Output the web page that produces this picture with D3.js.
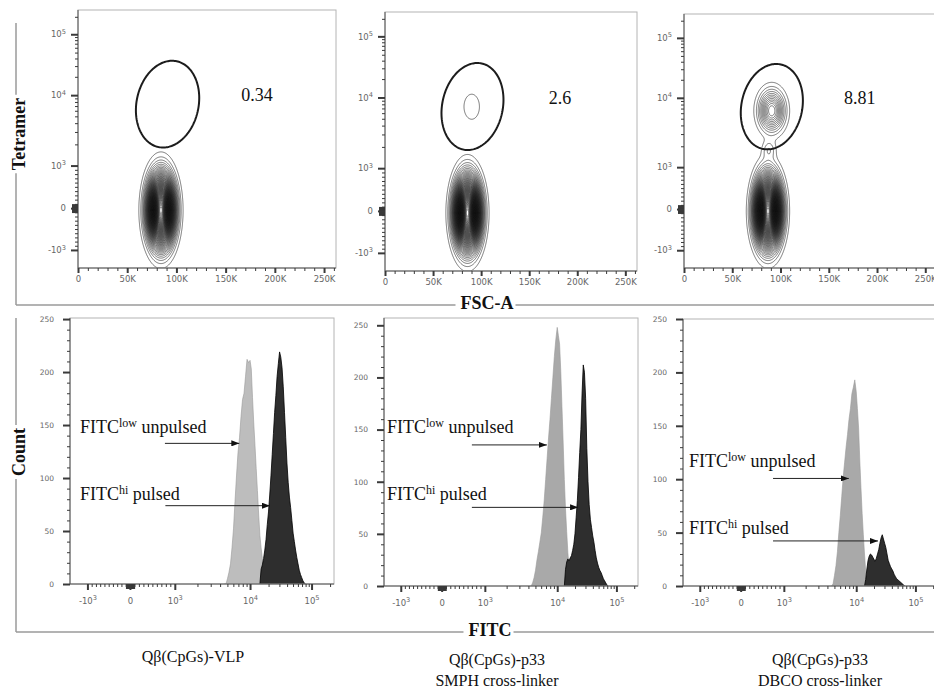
<!DOCTYPE html>
<html>
<head>
<meta charset="utf-8">
<title>Tetramer staining and in vivo killing</title>
<script src="https://cdn.jsdelivr.net/npm/d3@7/dist/d3.min.js"></script>
<style>
  html, body { margin: 0; padding: 0; background: #fff; }
  svg { display: block; }
</style>
</head>
<body>
<svg id="fig" width="934" height="688"></svg>
<script>
// ---------------- data ----------------
const sampleTitles = [
  ["Qβ(CpGs)-VLP"],
  ["Qβ(CpGs)-p33", "SMPH cross-linker"],
  ["Qβ(CpGs)-p33", "DBCO cross-linker"]
];
const gatePercents = ["0.34", "2.6", "8.81"];

const fscMax = 262144;
const fscMajorTicks = [0, 50000, 100000, 150000, 200000, 250000];
const biexMajorTicks = [-1000, 0, 1000, 10000, 100000];
const countMajorTicks = [0, 50, 100, 150, 200, 250];
const countMax = [251, 257, 250];

// Tetramer+ gate, identical on every sample (FSC-A, Tetramer)
const gateCentre = [91000, 7450];
const gateRadius = [31500, 0.7];      // FSC-A units, display decades
const gateTiltDeg = 12;
const percentAnchor = [182000, 10000];

// Event clusters behind the contour plots
// (Tetramer spread is given in linear-region decades of the display)
const clusterSample = [0, 1, 1, 2, 2, 2];
const clusterFSC    = [84300, 85800, 90200, 87000, 90900, 88000];
const clusterTet    = [-50, -50, 7400, -50, 6500, 1780];
const clusterSdFSC  = [7700, 7700, 7400, 7700, 8200, 4500];
const clusterSdTet  = [0.47, 0.47, 0.27, 0.47, 0.30, 0.14];
const clusterPeak   = [70, 70, 1.8, 70, 13, 2.5];              // in contour steps
const contourLevels = d3.range(1, 80);

// FITC histograms: counts per bin, bins spaced 0.02 log10 units from the start value
const histLogStep = 0.02;
const unpulsedStart = [3.66, 3.64, 3.66];
const unpulsedCounts = [
  [0,0,5,11,19,34,52,78,102,124,138,158,174,180,196,212,209,211,203,176,152,131,109,88,66,46,34,24,16,10,5,2,0],
  [0,3,8,15,25,33,42,51,66,82,102,122,142,160,180,200,220,236,248,240,232,206,172,138,102,74,52,32,18,8,2,0],
  [0,2,10,19,32,50,66,84,102,116,130,142,156,166,180,186,193,182,166,148,118,92,68,48,30,14,4,0]
];
const pulsedStart = [4.16, 4.12, 4.14];
const pulsedCounts = [
  [0,14,18,24,32,42,56,68,84,102,122,142,162,178,196,208,219,214,204,186,162,138,114,96,82,72,60,48,40,32,25,19,13,9,6,3,1,0],
  [0,16,23,26,24,27,29,34,40,50,66,82,104,128,150,185,212,205,180,132,100,78,64,56,48,42,34,27,22,18,15,13,10,7,5,3,1,0],
  [0,6,16,24,28,30,29,27,25,23,26,30,34,40,45,48,44,40,36,30,24,21,18,16,14,11,9,7,6,5,4,3,2,1,0]
];

// Histogram annotations: label baseline and arrow height in counts, arrow ends in FITC
const lowLabelCount = [142.7, 146.5, 111.5];
const lowArrowCount = [132.7, 135.3, 100.7];
const lowArrowFrom  = [780, 700, 750];
const lowArrowTo    = [7200, 7200, 7900];
const hiLabelCount  = [79, 82.4, 49.1];
const hiArrowCount  = [73.9, 75.4, 42.2];
const hiArrowFrom   = [790, 700, 750];
const hiArrowTo     = [21100, 22500, 23300];

// ---------------- layout ----------------
const topPanels = [
  { x: 78,  y: 10, w: 258, h: 258 },
  { x: 385, y: 12, w: 252, h: 259 },
  { x: 684, y: 14, w: 253, h: 254 }
];
const bottomPanels = [
  { x: 70,  y: 318, w: 264, h: 266 },
  { x: 384, y: 318, w: 254, h: 268 },
  { x: 683, y: 319, w: 254, h: 267 }
];
// biexponential display: decade units -> fraction of the plot
const tetBreaksU  = [-1.43, -1, 0, 1, 2, 3, 3.4186];
const tetBreaksF  = [0, 0.07, 0.232, 0.397, 0.67, 0.906, 1];
const fitcBreaksU = [-1.41, -1, 0, 1, 2, 3, 3.365];
const fitcBreaksF = [0, 0.066, 0.227, 0.397, 0.682, 0.915, 1];
const labelIndent = [10, 3, 6];
const titleCentres = [193, 497, 820];
const unpulsedFill = ["#bdbdbd", "#a9a9a9", "#a9a9a9"];

const SERIF = "'Liberation Serif','Times New Roman',Times,serif";
const SANS = "'DejaVu Sans',Verdana,sans-serif";
const TICK_INK = "#3a3a3a", LABEL_INK = "#666", FRAME_INK = "#b4b4b4", BRACKET_INK = "#9a9a9a";

// ---------------- helpers ----------------
function toDecades(v) {
  const a = Math.abs(v);
  return a <= 1000 ? v / 1000 : Math.sign(v) * (1 + Math.log10(a / 1000));
}
function fromDecades(u) {
  const a = Math.abs(u);
  return a <= 1 ? u * 1000 : Math.sign(u) * 1000 * Math.pow(10, a - 1);
}
// minor ticks of a biexponential axis; the ±10..±90 ones crowd around zero
function biexMinorTicks(uLo, uHi) {
  const vals = [];
  d3.range(1, 10).forEach(m => vals.push(m * 100, -m * 100));
  [1000, 10000, 100000].forEach(k => d3.range(2, 10).forEach(m => vals.push(m * k)));
  return vals.map(toDecades).filter(u => u > uLo && u < uHi);
}
function biexZeroTicks() {
  const vals = [];
  d3.range(1, 10).forEach(m => vals.push(m * 10, -m * 10));
  return vals.map(toDecades);
}
function powLabel(text, v) {
  text.text(null);
  if (v === 0) { text.text("0"); return; }
  const e = Math.round(Math.log10(Math.abs(v)));
  text.append("tspan").text((v < 0 ? "-" : "") + "10");
  text.append("tspan").attr("dy", "-0.55em").attr("font-size", "0.78em").text(e);
}
function dressAxis(g, tickWidth, fontSize) {
  g.attr("font-family", SANS).attr("font-size", fontSize);
  g.select(".domain").remove();
  g.selectAll(".tick line").attr("stroke", TICK_INK).attr("stroke-width", tickWidth);
  g.selectAll(".tick text").attr("fill", LABEL_INK);
  return g;
}
function frame(p) {
  svg.append("rect").attr("x", p.x).attr("y", p.y).attr("width", p.w).attr("height", p.h)
    .attr("fill", "none").attr("stroke", FRAME_INK).attr("stroke-width", 1);
  svg.append("line").attr("x1", p.x).attr("x2", p.x).attr("y1", p.y).attr("y2", p.y + p.h)
    .attr("stroke", "#555").attr("stroke-width", 1);
  svg.append("line").attr("x1", p.x).attr("x2", p.x + p.w).attr("y1", p.y + p.h).attr("y2", p.y + p.h)
    .attr("stroke", "#555").attr("stroke-width", 1);
}

// ---------------- drawing ----------------
const svg = d3.select("#fig");
svg.append("rect").attr("width", 934).attr("height", 688).attr("fill", "#fff");
const defs = svg.append("defs");
defs.append("marker").attr("id", "arrowHead")
  .attr("viewBox", "0 0 8 6").attr("refX", 8).attr("refY", 3)
  .attr("markerWidth", 8).attr("markerHeight", 6)
  .attr("markerUnits", "userSpaceOnUse").attr("orient", "auto")
  .append("path").attr("d", "M0,0L8,3L0,6Z").attr("fill", "#111");

// Tetramer vs FSC-A contour plots
topPanels.forEach((p, i) => {
  const x = d3.scaleLinear().domain([0, fscMax]).range([p.x, p.x + p.w]);
  const y = d3.scaleLinear().domain(tetBreaksU).range(tetBreaksF.map(f => p.y + p.h * (1 - f)));
  const pxPerDecade = y(0) - y(1);
  const clipId = "clipTop" + i;
  defs.append("clipPath").attr("id", clipId).append("rect")
    .attr("x", p.x).attr("y", p.y).attr("width", p.w).attr("height", p.h);

  const nx = Math.round(p.w), ny = Math.round(p.h);
  const members = d3.range(clusterSample.length).filter(k => clusterSample[k] === i);
  const centreY = members.map(k => y(toDecades(clusterTet[k])));
  const grid = new Array(nx * ny);
  for (let r = 0; r < ny; r++) {
    const py = p.y + r + 0.5;
    for (let c = 0; c < nx; c++) {
      const f = x.invert(p.x + c + 0.5);
      let s = 0;
      members.forEach((k, m) => {
        const dx = (f - clusterFSC[k]) / clusterSdFSC[k];
        const dy = (py - centreY[m]) / (clusterSdTet[k] * pxPerDecade);
        s += clusterPeak[k] * Math.exp(-0.5 * (dx * dx + dy * dy));
      });
      grid[r * nx + c] = s;
    }
  }
  const contours = d3.contours().size([nx, ny]).thresholds(contourLevels)(grid);
  svg.append("g").attr("clip-path", `url(#${clipId})`)
    .append("g").attr("transform", `translate(${p.x},${p.y})`)
    .selectAll("path").data(contours).join("path")
    .attr("d", d3.geoPath())
    .attr("fill", "none").attr("stroke", "#0c0c0c").attr("stroke-width", 0.55);

  frame(p);

  // gate
  const cu = toDecades(gateCentre[1]);
  const cx = x(gateCentre[0]), cy = y(cu);
  const rx = x(gateCentre[0] + gateRadius[0]) - cx;
  const ry = cy - y(cu + gateRadius[1]);
  const t = gateTiltDeg * Math.PI / 180;
  const ring = d3.range(0, 2 * Math.PI, Math.PI / 90).map(a => {
    const ex = rx * Math.cos(a), ey = ry * Math.sin(a);
    return [cx + ex * Math.cos(t) - ey * Math.sin(t), cy + ex * Math.sin(t) + ey * Math.cos(t)];
  });
  svg.append("path").attr("d", d3.line().curve(d3.curveLinearClosed)(ring))
    .attr("fill", "none").attr("stroke", "#1c1c1c").attr("stroke-width", 2);

  svg.append("text")
    .attr("x", x(percentAnchor[0])).attr("y", y(toDecades(percentAnchor[1])))
    .attr("dy", "0.35em").attr("text-anchor", "middle")
    .attr("font-family", SERIF).attr("font-size", 18).attr("fill", "#111")
    .text(gatePercents[i]);

  // axes
  const uLo = tetBreaksU[0], uHi = tetBreaksU[tetBreaksU.length - 1];
  dressAxis(svg.append("g").attr("transform", `translate(${p.x},0)`)
    .call(d3.axisLeft(y).tickValues(biexMinorTicks(uLo, uHi)).tickSize(3).tickFormat("")), 1, 8.5);
  dressAxis(svg.append("g").attr("transform", `translate(${p.x},0)`)
    .call(d3.axisLeft(y).tickValues(biexZeroTicks()).tickSize(6).tickFormat("")), 1.3, 8.5);
  const gy = dressAxis(svg.append("g").attr("transform", `translate(${p.x},0)`)
    .call(d3.axisLeft(y).tickValues(biexMajorTicks.map(toDecades)).tickSize(7).tickPadding(5)), 2, 8.5);
  gy.selectAll(".tick text").each(function (u) { powLabel(d3.select(this), fromDecades(u)); });

  dressAxis(svg.append("g").attr("transform", `translate(0,${p.y + p.h})`)
    .call(d3.axisBottom(x).tickValues(d3.range(10000, fscMax, 10000).filter(v => v % 50000))
      .tickSize(3).tickFormat("")), 1, 8.5);
  dressAxis(svg.append("g").attr("transform", `translate(0,${p.y + p.h})`)
    .call(d3.axisBottom(x).tickValues(fscMajorTicks).tickSize(5).tickPadding(3)
      .tickFormat(v => v ? (v / 1000) + "K" : "0")), 2, 8.5);
});

// FITC histograms
bottomPanels.forEach((p, i) => {
  const x = d3.scaleLinear().domain(fitcBreaksU).range(fitcBreaksF.map(f => p.x + f * p.w));
  const y = d3.scaleLinear().domain([0, countMax[i]]).range([p.y + p.h, p.y]);
  const clipId = "clipBottom" + i;
  defs.append("clipPath").attr("id", clipId).append("rect")
    .attr("x", p.x).attr("y", p.y).attr("width", p.w).attr("height", p.h);
  const g = svg.append("g").attr("clip-path", `url(#${clipId})`);

  const series = (start, counts) => counts.map((c, k) => ({ v: Math.pow(10, start + k * histLogStep), c }));
  const area = d3.area().x(d => x(toDecades(d.v))).y0(y(0)).y1(d => y(d.c));
  g.append("path").datum(series(unpulsedStart[i], unpulsedCounts[i])).attr("d", area)
    .attr("fill", unpulsedFill[i]).attr("stroke", "#999").attr("stroke-width", 0.6);
  g.append("path").datum(series(pulsedStart[i], pulsedCounts[i])).attr("d", area)
    .attr("fill", "#2e2e2e").attr("stroke", "#000").attr("stroke-width", 0.8);

  frame(p);

  // axes
  dressAxis(svg.append("g").attr("transform", `translate(${p.x},0)`)
    .call(d3.axisLeft(y).tickValues(d3.range(10, countMax[i], 10).filter(v => v % 50))
      .tickSize(3).tickFormat("")), 1, 7.5);
  dressAxis(svg.append("g").attr("transform", `translate(${p.x},0)`)
    .call(d3.axisLeft(y).tickValues(countMajorTicks).tickSize(7).tickPadding(9)), 2, 7.5);

  const uLo = fitcBreaksU[0], uHi = fitcBreaksU[fitcBreaksU.length - 1];
  dressAxis(svg.append("g").attr("transform", `translate(0,${p.y + p.h})`)
    .call(d3.axisBottom(x).tickValues(biexMinorTicks(uLo, uHi)).tickSize(3).tickFormat("")), 1, 8.5);
  dressAxis(svg.append("g").attr("transform", `translate(0,${p.y + p.h})`)
    .call(d3.axisBottom(x).tickValues(biexZeroTicks()).tickSize(5).tickFormat("")), 1.3, 8.5);
  const gx = dressAxis(svg.append("g").attr("transform", `translate(0,${p.y + p.h})`)
    .call(d3.axisBottom(x).tickValues(biexMajorTicks.map(toDecades)).tickSize(6).tickPadding(8)), 2, 8.5);
  gx.selectAll(".tick text").each(function (u) { powLabel(d3.select(this), fromDecades(u)); });

  // annotations
  const annotate = (sup, rest, baseCount, arrowCount, from, to) => {
    const t = svg.append("text").attr("x", p.x + labelIndent[i]).attr("y", y(baseCount))
      .attr("font-family", SERIF).attr("font-size", 18).attr("fill", "#111");
    t.append("tspan").text("FITC");
    t.append("tspan").attr("font-size", 12).attr("dy", -6).text(sup);
    t.append("tspan").attr("dy", 6).text(rest);
    svg.append("line")
      .attr("x1", x(toDecades(from))).attr("x2", x(toDecades(to)))
      .attr("y1", y(arrowCount)).attr("y2", y(arrowCount))
      .attr("stroke", "#222").attr("stroke-width", 1).attr("marker-end", "url(#arrowHead)");
  };
  annotate("low", " unpulsed", lowLabelCount[i], lowArrowCount[i], lowArrowFrom[i], lowArrowTo[i]);
  annotate("hi", " pulsed", hiLabelCount[i], hiArrowCount[i], hiArrowFrom[i], hiArrowTo[i]);
});

// Bracketing axis titles
function bracket(vTitle, vCentreY, top, bottom, hTitle, hCentreX) {
  const vx = 16;
  const vt = svg.append("text").attr("transform", `translate(${vx + 9},${vCentreY}) rotate(-90)`)
    .attr("text-anchor", "middle").attr("font-family", SERIF).attr("font-weight", "bold")
    .attr("font-size", 18).attr("fill", "#111").text(vTitle);
  const vLen = vt.node().getComputedTextLength();
  const ht = svg.append("text").attr("x", hCentreX).attr("y", bottom + 3.5)
    .attr("text-anchor", "middle").attr("font-family", SERIF).attr("font-weight", "bold")
    .attr("font-size", 18).attr("fill", "#111").text(hTitle);
  const hLen = ht.node().getComputedTextLength();
  const segs = [
    [vx, top, vx, vCentreY - vLen / 2 - 3],
    [vx, vCentreY + vLen / 2 + 3, vx, bottom],
    [vx, bottom, hCentreX - hLen / 2 - 5, bottom],
    [hCentreX + hLen / 2 + 2, bottom, 934, bottom]
  ];
  segs.forEach(s => svg.append("line")
    .attr("x1", s[0]).attr("y1", s[1]).attr("x2", s[2]).attr("y2", s[3])
    .attr("stroke", BRACKET_INK).attr("stroke-width", 1.5));
}
bracket("Tetramer", 134, 23, 305, "FSC-A", 487);
bracket("Count", 452, 318, 632, "FITC", 490);

// Sample names
sampleTitles.forEach((lines, i) => {
  lines.forEach((s, k) => {
    svg.append("text").attr("x", titleCentres[i]).attr("y", (lines.length === 1 ? 662 : 665) + k * 21)
      .attr("text-anchor", "middle").attr("font-family", SERIF).attr("font-size", 16)
      .attr("fill", "#111").text(s);
  });
});
</script>
</body>
</html>
